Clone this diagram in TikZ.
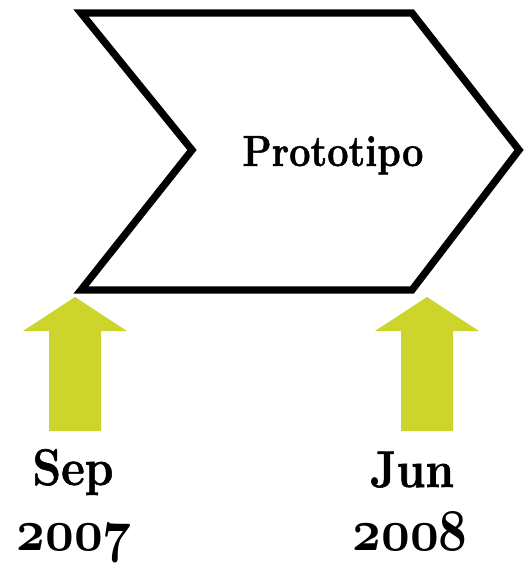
\documentclass[tikz,border=0pt]{standalone}
\usepackage{fontspec}
\usepackage{graphicx}
\font\yearfont=cmmib10 at 50pt
\newfontfamily\heavyfont[FakeBold=1.2]{Latin Modern Roman}
\definecolor{arrowgreen}{RGB}{205,213,44}
\newcommand{\datefont}{\heavyfont\fontsize{46}{50}\selectfont\bfseries}
\newcommand{\titlefont}{\heavyfont\fontsize{38}{42}\selectfont\bfseries}
\tikzset{
  chev/.style={draw=black, line width=7.3pt, line join=miter},
  uparrow/.style={fill=arrowgreen, draw=none},
  datelabel/.style={anchor=base, inner sep=0pt},
  yearlabel/.style={anchor=base, inner sep=0pt},
  titlelabel/.style={anchor=base, inner sep=0pt}
}
\begin{document}
\begin{tikzpicture}[x=1pt,y=-1pt]
\useasboundingbox (0,0) rectangle (525,564);
% chevron
\draw[chev] (81,13) -- (412,13) -- (519,150) -- (412,290) -- (81,290) -- (192,150) -- cycle;
\node[titlelabel] (proto) at (333,166) {\scalebox{1}[1.15]{\titlefont Prototipo}};
% left arrow
\fill[uparrow] (75,297) -- (127,331) -- (101,331) -- (101,431) -- (49,431) -- (49,331) -- (23,331) -- cycle;
% right arrow
\fill[uparrow] (427,297) -- (479,331) -- (453,331) -- (453,431) -- (401,431) -- (401,331) -- (375,331) -- cycle;
\node[datelabel] (sep) at (73,485) {\scalebox{1}[1.12]{\datefont Sep}};
\node[yearlabel] (y1) at (74,550) {\scalebox{1}[1.18]{\yearfont 2007}};
\node[datelabel] (jun) at (412,487) {\scalebox{1}[1.12]{\datefont Jun}};
\node[yearlabel] (y2) at (410,550) {\scalebox{1}[1.18]{\yearfont 2008}};
\end{tikzpicture}
\end{document}
